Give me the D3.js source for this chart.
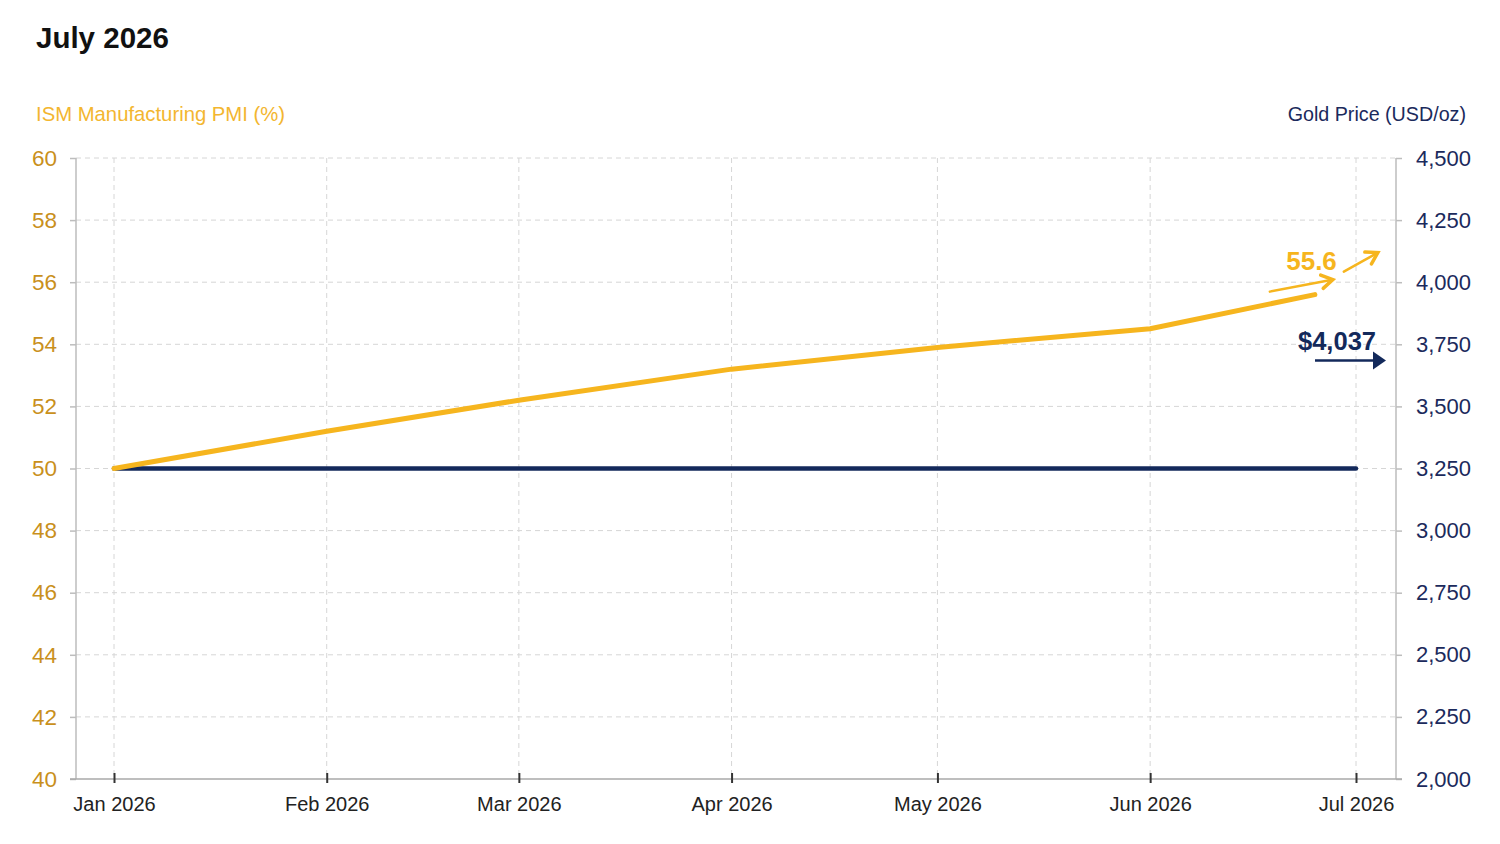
<!DOCTYPE html>
<html>
<head>
<meta charset="utf-8">
<script src="https://cdn.jsdelivr.net/npm/d3@7"></script>
<style>
  html, body { margin: 0; padding: 0; background: #fff; }
  svg { display: block; font-family: "Liberation Sans", Arial, Helvetica, sans-serif; }
</style>
</head>
<body>
<svg id="chart" width="1500" height="844"></svg>
<script>
// ---- data ----
const pmiDates   = ["2026-01-01","2026-02-01","2026-03-01","2026-04-01","2026-05-01","2026-06-01","2026-06-25"];
const pmiValues  = [50.0, 51.2, 52.2, 53.2, 53.9, 54.5, 55.6];
const goldDates  = ["2026-01-01","2026-02-01","2026-03-01","2026-04-01","2026-05-01","2026-06-01","2026-07-01"];
const goldValues = [3250, 3250, 3250, 3250, 3250, 3250, 3250];
const monthTicks = ["2026-01-01","2026-02-01","2026-03-01","2026-04-01","2026-05-01","2026-06-01","2026-07-01"];
const pmiTicks   = [40, 42, 44, 46, 48, 50, 52, 54, 56, 58, 60];
const goldTicks  = [2000, 2250, 2500, 2750, 3000, 3250, 3500, 3750, 4000, 4250, 4500];
const titleText  = "July 2026";
const leftTitle  = "ISM Manufacturing PMI (%)";
const rightTitle = "Gold Price (USD/oz)";
const pmiLabel   = "55.6";
const goldLabel  = "$4,037";

// ---- layout ----
const L = 76, R = 1396, T = 158, B = 779;
const parse = d3.timeParse("%Y-%m-%d");
const COL_PMI = "#F6B51E", COL_PMI_TXT = "#C9901C", COL_PMI_TITLE = "#F3B630";
const COL_GOLD = "#13295B", COL_GOLD_TXT = "#1B2A5C";

const svg = d3.select("#chart");

const x = d3.scaleTime()
  .domain([parse(monthTicks[0]), parse(monthTicks[monthTicks.length - 1])])
  .range([114, 1356]);
const yL = d3.scaleLinear().domain([40, 60]).range([B, T]);
const yR = d3.scaleLinear().domain([2000, 4500]).range([B, T]);

// title
svg.append("text").attr("x", 36).attr("y", 48)
  .attr("font-size", 29.5).attr("font-weight", "bold").attr("fill", "#111")
  .text(titleText);

// gridlines
const grid = svg.append("g");
grid.selectAll("line.h").data(pmiTicks.filter(d => d !== 40)).join("line")
  .attr("x1", L).attr("x2", R)
  .attr("y1", d => yL(d)).attr("y2", d => yL(d))
  .attr("stroke", "#d6d6d6").attr("stroke-width", 1).attr("stroke-dasharray", "5,4");
grid.selectAll("line.v").data(monthTicks).join("line")
  .attr("x1", d => x(parse(d))).attr("x2", d => x(parse(d)))
  .attr("y1", T).attr("y2", B)
  .attr("stroke", "#d6d6d6").attr("stroke-width", 1).attr("stroke-dasharray", "5,4");

// left axis
const gL = svg.append("g").attr("transform", `translate(${L},0)`)
  .call(d3.axisLeft(yL).tickValues(pmiTicks).tickSize(6).tickPadding(13).tickFormat(d3.format("d")));
gL.select(".domain").attr("stroke", "#bdbdbd").attr("stroke-width", 1.5).attr("d", `M0,${T}V${B}`);
gL.selectAll(".tick line").attr("stroke", "#bdbdbd").attr("stroke-width", 1.5);
gL.selectAll(".tick text").attr("fill", COL_PMI_TXT).attr("font-size", 22.5)
  .attr("font-family", "'Liberation Sans', Arial, sans-serif");

// right axis
const gR = svg.append("g").attr("transform", `translate(${R},0)`)
  .call(d3.axisRight(yR).tickValues(goldTicks).tickSize(6).tickPadding(14).tickFormat(d3.format(",")));
gR.select(".domain").attr("stroke", "#bdbdbd").attr("stroke-width", 1.5).attr("d", `M0,${T}V${B}`);
gR.selectAll(".tick line").attr("stroke", "#bdbdbd").attr("stroke-width", 1.5);
gR.selectAll(".tick text").attr("fill", COL_GOLD_TXT).attr("font-size", 22)
  .attr("font-family", "'Liberation Sans', Arial, sans-serif");

// bottom axis
const gB = svg.append("g").attr("transform", `translate(0,${B})`)
  .call(d3.axisBottom(x).tickValues(monthTicks.map(parse)).tickSize(4).tickPadding(14)
    .tickFormat(d3.timeFormat("%b %Y")));
gB.select(".domain").attr("stroke", "#a8a8a8").attr("stroke-width", 1.5).attr("d", `M${L - 6},0H${R + 6}`);
gB.selectAll(".tick line").attr("stroke", "#333").attr("stroke-width", 2).attr("y1", -6).attr("y2", 4);
gB.selectAll(".tick text").attr("fill", "#222").attr("font-size", 20)
  .attr("font-family", "'Liberation Sans', Arial, sans-serif");

// axis titles
svg.append("text").attr("x", 36).attr("y", 121).attr("font-size", 20.3)
  .attr("fill", COL_PMI_TITLE).text(leftTitle);
svg.append("text").attr("x", 1466).attr("y", 121).attr("font-size", 19.7)
  .attr("text-anchor", "end").attr("fill", COL_GOLD_TXT).text(rightTitle);

// gold line
const goldData = goldDates.map((d, i) => ({ d: parse(d), v: goldValues[i] }));
svg.append("path").datum(goldData)
  .attr("fill", "none").attr("stroke", COL_GOLD).attr("stroke-width", 4.5)
  .attr("stroke-linecap", "round").attr("stroke-linejoin", "round")
  .attr("d", d3.line().x(p => x(p.d)).y(p => yR(p.v)));

// pmi line
const pmiData = pmiDates.map((d, i) => ({ d: parse(d), v: pmiValues[i] }));
svg.append("path").datum(pmiData)
  .attr("fill", "none").attr("stroke", COL_PMI).attr("stroke-width", 5)
  .attr("stroke-linecap", "round").attr("stroke-linejoin", "round")
  .attr("d", d3.line().x(p => x(p.d)).y(p => yL(p.v)));

// annotations anchored to last points
const lastP = pmiData[pmiData.length - 1];
const px = x(lastP.d), py = yL(lastP.v);
const lastG = goldData[goldData.length - 1];
const gx = x(lastG.d), gy = yR(lastG.v);

function chevronArrow(x1, y1, x2, y2, color, w, hl) {
  const a = Math.atan2(y2 - y1, x2 - x1);
  svg.append("line").attr("x1", x1).attr("y1", y1).attr("x2", x2 - Math.cos(a) * 2).attr("y2", y2 - Math.sin(a) * 2)
    .attr("stroke", color).attr("stroke-width", w).attr("stroke-linecap", "round");
  const s = 0.55;
  const p1 = [x2 - hl * Math.cos(a - s), y2 - hl * Math.sin(a - s)];
  const p2 = [x2 - hl * Math.cos(a + s), y2 - hl * Math.sin(a + s)];
  svg.append("path").attr("d", `M${p1[0]},${p1[1]}L${x2},${y2}L${p2[0]},${p2[1]}`)
    .attr("fill", "none").attr("stroke", color).attr("stroke-width", w + 1)
    .attr("stroke-linecap", "round").attr("stroke-linejoin", "miter");
}
function triArrow(x1, y1, x2, y2, color, w) {
  svg.append("line").attr("x1", x1).attr("y1", y1).attr("x2", x2 - 10).attr("y2", y2)
    .attr("stroke", color).attr("stroke-width", w);
  svg.append("path").attr("d", `M${x2 - 13},${y2 - 9}L${x2},${y2}L${x2 - 13},${y2 + 9}Z`).attr("fill", color);
}

chevronArrow(px - 45, py - 3, px + 18, py - 15, COL_PMI, 2.5, 13);
chevronArrow(px + 29, py - 23, px + 63, py - 42, COL_PMI, 2.5, 13);
svg.append("text").attr("x", px + 22).attr("y", py - 25).attr("text-anchor", "end")
  .attr("font-size", 26).attr("font-weight", "bold").attr("fill", COL_PMI).text(pmiLabel);

triArrow(gx - 41, gy - 108, gx + 30, gy - 108, COL_GOLD, 2.5);
svg.append("text").attr("x", gx + 20).attr("y", gy - 119).attr("text-anchor", "end")
  .attr("font-size", 25.5).attr("font-weight", "bold").attr("fill", COL_GOLD).text(goldLabel);
</script>
</body>
</html>
